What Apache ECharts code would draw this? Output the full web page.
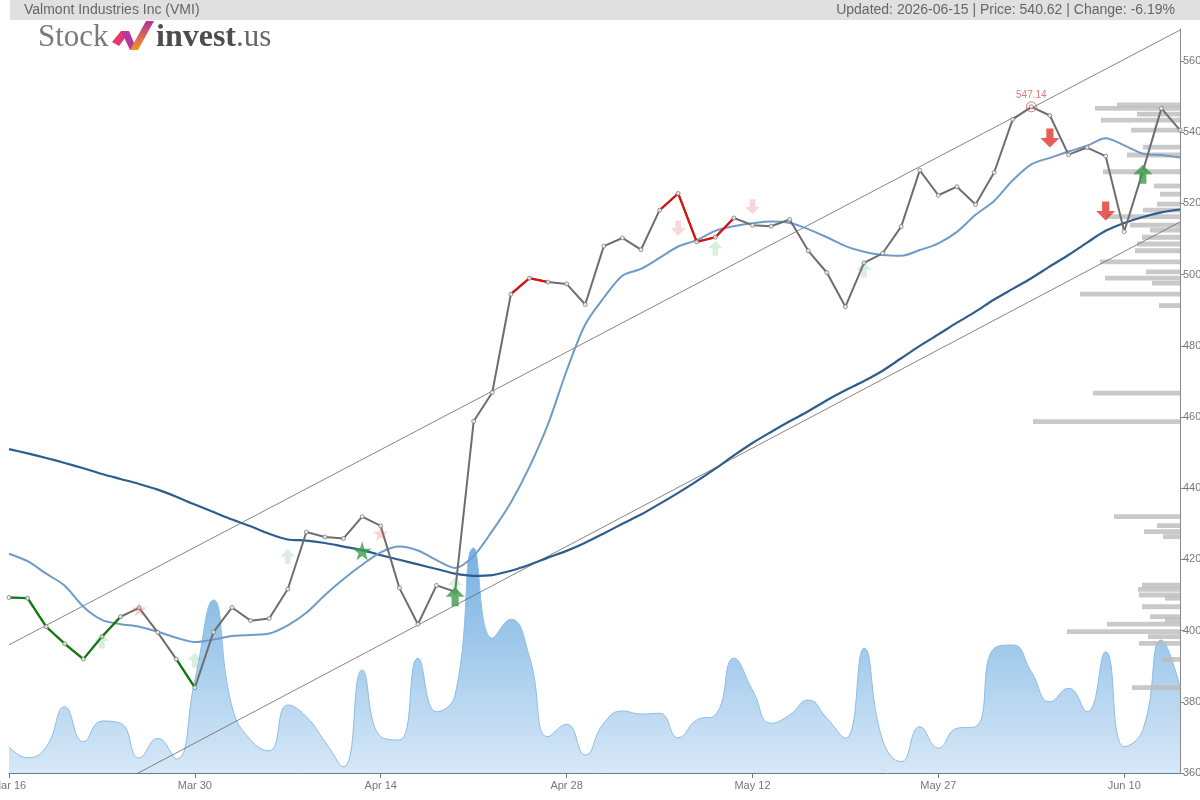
<!DOCTYPE html>
<html>
<head>
<meta charset="utf-8">
<title>Valmont Industries Inc (VMI)</title>
<script src="https://cdn.jsdelivr.net/npm/echarts@6/dist/echarts.min.js"></script>
<style>
  html, body { margin: 0; padding: 0; background: #fff; }
  #chart { width: 1200px; height: 800px; }
</style>
</head>
<body>
<div id="chart"></div>
<script>
// trading days shown on the chart
const dates = ['Mar 16', 'Mar 17', 'Mar 18', 'Mar 19', 'Mar 20', 'Mar 23', 'Mar 24', 'Mar 25', 'Mar 26', 'Mar 27',
  'Mar 30', 'Mar 31', 'Apr 1', 'Apr 2', 'Apr 6', 'Apr 7', 'Apr 8', 'Apr 9', 'Apr 10', 'Apr 13',
  'Apr 14', 'Apr 15', 'Apr 16', 'Apr 17', 'Apr 20', 'Apr 21', 'Apr 22', 'Apr 23', 'Apr 24', 'Apr 27',
  'Apr 28', 'Apr 29', 'Apr 30', 'May 1', 'May 4', 'May 5', 'May 6', 'May 7', 'May 8', 'May 11',
  'May 12', 'May 13', 'May 14', 'May 15', 'May 18', 'May 19', 'May 20', 'May 21', 'May 22', 'May 26',
  'May 27', 'May 28', 'May 29', 'Jun 1', 'Jun 2', 'Jun 3', 'Jun 4', 'Jun 5', 'Jun 8', 'Jun 9',
  'Jun 10', 'Jun 11', 'Jun 12', 'Jun 15']

const price = [409.3, 409.1, 401.1, 396.3, 392.0, 398.3, 403.9, 406.4, 399.5, 392.0,
  384.0, 399.6, 406.5, 402.8, 403.4, 411.7, 427.7, 426.3, 425.9, 432.0,
  429.4, 412.0, 401.8, 412.7, 410.9, 458.8, 466.9, 494.5, 499.0, 497.9,
  497.4, 491.6, 508.0, 510.3, 507.0, 518.1, 522.8, 509.2, 510.5, 515.9,
  513.9, 513.6, 515.5, 506.7, 500.6, 491.0, 503.3, 506.0, 513.5, 529.3,
  522.3, 524.7, 519.7, 528.7, 543.6, 547.14, 544.7, 533.7, 535.7, 533.3,
  512.1, 529.0, 546.7, 540.62]

// short and long moving averages
const maShort = [421.6, 419.5, 416.0, 412.6, 406.7, 403.0, 401.8, 401.1, 399.7, 398.0,
  396.8, 397.5, 398.5, 398.8, 399.2, 401.5, 405.0, 410.0, 414.5, 418.5,
  422.0, 423.6, 422.5, 419.8, 417.6, 421.0, 428.0, 436.0, 446.0, 458.0,
  473.0, 486.0, 493.5, 499.7, 501.6, 504.7, 507.9, 509.7, 512.3, 513.6,
  514.4, 514.9, 514.5, 512.8, 510.5, 508.0, 506.4, 505.5, 505.3, 506.9,
  508.8, 512.0, 516.8, 520.7, 526.5, 531.0, 532.8, 534.6, 536.2, 538.3,
  536.3, 534.0, 533.6, 532.9]

const maLong = [451.0, 449.8, 448.5, 447.1, 445.6, 444.0, 442.6, 441.2, 439.6, 437.6,
  435.4, 433.3, 431.2, 429.3, 427.2, 425.6, 425.3, 424.6, 423.6, 422.6,
  421.2, 419.9, 418.6, 417.3, 416.0, 415.4, 415.6, 416.8, 418.5, 420.5,
  422.4, 424.7, 427.3, 430.0, 432.6, 435.6, 438.7, 442.0, 445.5, 449.2,
  452.7, 455.8, 458.8, 461.6, 464.7, 467.5, 470.1, 473.0, 476.5, 480.0,
  483.2, 486.5, 489.6, 493.0, 496.0, 499.0, 502.3, 505.5, 509.0, 512.3,
  514.5, 516.2, 517.5, 518.3]

// daily volume (thousands)
const volume = [105, 61, 104, 265, 125, 208, 199, 60, 139, 56,
  372, 692, 265, 132, 89, 272, 225, 125, 25, 412,
  145, 132, 459, 245, 312, 900, 539, 615, 465, 145,
  195, 72, 199, 248, 236, 239, 141, 212, 232, 459,
  332, 199, 232, 292, 219, 139, 499, 132, 45, 185,
  99, 179, 185, 499, 512, 405, 285, 339, 245, 485,
  105, 172, 532, 345]

// index ranges where the price line is coloured
const greenRuns = [[0, 6], [9, 10]]
const redRuns = [[27, 29], [35, 39]]

// trend channel, value at first and last index
const channelUpper = [396.0, 568.7]
const channelLower = [340.8, 514.8]

// volume by price profile
const profilePrice = [547.7, 546.7, 545.1, 543.4, 540.6, 535.8, 533.6, 528.9, 524.9, 522.6,
  519.8, 518.1, 516.3, 513.9, 512.5, 510.5, 508.6, 506.7, 503.6, 500.8,
  499.0, 497.6, 494.5, 491.3, 466.7, 458.7, 432.0, 429.5, 427.8, 426.4,
  412.8, 411.6, 410.0, 409.1, 406.7, 403.9, 403.0, 401.8, 399.7, 398.3,
  396.4, 391.9, 384.0]
const profileVol = [63, 85, 43, 79, 49, 37, 53, 77, 26, 20,
  23, 37, 73, 50, 30, 38, 43, 45, 80, 34,
  75, 28, 100, 21, 87, 147, 66, 23, 36, 17,
  38, 42, 41, 15, 38, 30, 15, 73, 113, 32,
  41, 18, 48]

// signals
const buyIdx = [24, 61], buyVal = [409.5, 528.2]
const sellIdx = [56, 59], sellVal = [538.4, 517.9]
const starIdx = [19], starVal = [422.4]
const weakBuyIdx = [5, 10, 15, 24, 38, 46], weakBuyVal = [397.1, 391.7, 420.8, 412.8, 507.4, 501.3]
const weakSellIdx = [36, 40], weakSellVal = [513.0, 519.1]
const weakStarIdx = [7, 20], weakStarVal = [406.0, 427.3]

const maxIdx = 55

const upArrow = 'path://M8,0 L16,8 L11,8 L11,16 L5,16 L5,8 L0,8 Z'
const downArrow = 'path://M5,0 L11,0 L11,8 L16,8 L8,16 L0,8 L5,8 Z'
const star = 'path://M50,0 L61,35 L98,35 L68,57 L79,91 L50,70 L21,91 L32,57 L2,35 L39,35 Z'

const last = dates.length - 1
const pairs = (arr) => arr.map((v, i) => [i, v])
const zip = (xs, ys) => xs.map((x, k) => [x, ys[k]])
const runData = (runs) => price.map((v, i) => runs.some(r => i >= r[0] && i <= r[1]) ? [i, v] : [i, '-'])
const font = '"Liberation Sans", Arial, sans-serif'
const serif = '"Liberation Serif", serif'

const chart = echarts.init(document.getElementById('chart'))

const option = {
  animation: false,
  backgroundColor: '#fff',
  grid: { left: 9, right: 20, top: 29, bottom: 27, containLabel: false, outerBoundsMode: 'none' },
  xAxis: [
    {
      type: 'value', min: 0, max: last, interval: 10,
      axisLine: { show: true, lineStyle: { color: '#5f7d8c', width: 1 } },
      axisTick: { show: true, length: 5, lineStyle: { color: '#5f7d8c' } },
      axisLabel: {
        color: '#777', fontSize: 11, fontFamily: font, margin: 7,
        showMaxLabel: false, hideOverlap: false,
        formatter: (v) => dates[v] || ''
      },
      splitLine: { show: false }
    },
    {
      // for the volume profile bars, growing from the right edge
      type: 'value', min: 0, max: 1171, inverse: true, show: false
    }
  ],
  yAxis: [
    {
      type: 'value', position: 'right', min: 360, max: 569, interval: 20,
      axisLine: { show: true, onZero: false, lineStyle: { color: '#888' } },
      axisTick: { show: true, length: 4, lineStyle: { color: '#888' } },
      axisLabel: { color: '#777', fontSize: 11, fontFamily: font, margin: 3, showMaxLabel: false },
      splitLine: { show: false }
    },
    { type: 'value', min: 0, max: 2976, show: false }
  ],
  graphic: [
    { type: 'rect', shape: { x: 10, y: 0, width: 1190, height: 20 }, style: { fill: '#e0e0e0' }, z: 10 },
    {
      type: 'text', x: 24, y: 10, z: 11,
      style: { text: 'Valmont Industries Inc (VMI)', font: '14px ' + font, fill: '#666', textVerticalAlign: 'middle' }
    },
    {
      type: 'text', x: 1175, y: 10, z: 11,
      style: { text: 'Updated: 2026-06-15 | Price: 540.62 | Change: -6.19%', font: '14px ' + font, fill: '#666', textAlign: 'right', textVerticalAlign: 'middle' }
    },
    {
      type: 'text', x: 38, y: 38, z: 11,
      style: { text: 'Stock', font: '31px ' + serif, fill: '#7a7a7a', textVerticalAlign: 'middle' }
    },
    { type: 'polygon', z: 11, shape: { points: [[112, 42], [121, 31], [128, 34], [119, 46]] }, style: { fill: '#e23a6a' } },
    { type: 'polygon', z: 11, shape: { points: [[121, 31], [129, 31], [137, 50], [130, 50]] }, style: { fill: '#b8379c' } },
    {
      type: 'polygon', z: 11, shape: { points: [[130, 50], [138, 50], [154, 21], [146, 21]] },
      style: {
        fill: new echarts.graphic.LinearGradient(0, 1, 0, 0, [
          { offset: 0, color: '#f7941d' }, { offset: 1, color: '#b4329f' }
        ])
      }
    },
    {
      type: 'text', x: 156, y: 38, z: 11,
      style: {
        text: '{b|invest}{c|.us}', textVerticalAlign: 'middle',
        rich: {
          b: { font: 'bold 32px ' + serif, fill: '#4d4d4d' },
          c: { font: '31px ' + serif, fill: '#666' }
        }
      }
    }
  ],
  series: [
    {
      name: 'Volume', type: 'line', yAxisIndex: 1, z: 1,
      data: pairs(volume), smooth: 0.5, showSymbol: false, silent: true,
      lineStyle: { color: '#8dbde5', width: 1 },
      areaStyle: {
        opacity: 1,
        color: new echarts.graphic.LinearGradient(0, 0, 0, 1, [
          { offset: 0, color: '#76b1e2' }, { offset: 1, color: '#d7e8f7' }
        ])
      }
    },
    {
      name: 'Profile', type: 'custom', xAxisIndex: 1, yAxisIndex: 0, z: 2, silent: true,
      data: zip(profileVol, profilePrice),
      encode: { x: 0, y: 1 },
      renderItem: (params, api) => {
        const p0 = api.coord([0, api.value(1)])
        const p1 = api.coord([api.value(0), api.value(1)])
        const h = api.size([0, 1.35])[1]
        return {
          type: 'rect',
          shape: { x: p1[0], y: p0[1] - h / 2, width: p0[0] - p1[0], height: h },
          style: { fill: 'rgba(188,188,188,0.8)' }
        }
      }
    },
    {
      name: 'Upper', type: 'line', z: 3, showSymbol: false, silent: true,
      data: [[0, channelUpper[0]], [last, channelUpper[1]]],
      lineStyle: { color: '#666', width: 0.8 }
    },
    {
      name: 'Lower', type: 'line', z: 3, showSymbol: false, silent: true,
      data: [[0, channelLower[0]], [last, channelLower[1]]],
      lineStyle: { color: '#666', width: 0.8 }
    },
    {
      name: 'MA long', type: 'line', z: 4, showSymbol: false, smooth: 0.3,
      data: pairs(maLong), lineStyle: { color: '#2d5e8e', width: 2.2 }
    },
    {
      name: 'MA short', type: 'line', z: 4, showSymbol: false, smooth: 0.3,
      data: pairs(maShort), lineStyle: { color: '#6f9bc6', width: 2 }
    },
    {
      name: 'Price', type: 'line', z: 5, showSymbol: false,
      data: pairs(price), lineStyle: { color: '#6e6e6e', width: 2 }
    },
    {
      name: 'Price up', type: 'line', z: 6, showSymbol: false,
      data: runData(greenRuns), lineStyle: { color: '#0f7d0f', width: 2.2 }
    },
    {
      name: 'Price down', type: 'line', z: 6, showSymbol: false,
      data: runData(redRuns), lineStyle: { color: '#dd1010', width: 2.2 }
    },
    {
      name: 'Points', type: 'scatter', z: 7, silent: true,
      data: pairs(price), symbol: 'circle', symbolSize: 4,
      itemStyle: { color: '#fff', borderColor: '#777', borderWidth: 1 }
    },
    {
      name: 'Weak buy', type: 'scatter', z: 8, silent: true,
      data: zip(weakBuyIdx, weakBuyVal), symbol: upArrow, symbolSize: [15, 15],
      itemStyle: { color: 'rgba(70,170,80,0.25)' }
    },
    {
      name: 'Weak sell', type: 'scatter', z: 8, silent: true,
      data: zip(weakSellIdx, weakSellVal), symbol: downArrow, symbolSize: [15, 15],
      itemStyle: { color: 'rgba(235,90,90,0.3)' }
    },
    {
      name: 'Weak star', type: 'scatter', z: 8, silent: true,
      data: zip(weakStarIdx, weakStarVal), symbol: star, symbolSize: [15, 15],
      itemStyle: { color: 'rgba(235,90,90,0.35)' }
    },
    {
      name: 'Buy', type: 'scatter', z: 9, silent: true,
      data: zip(buyIdx, buyVal), symbol: upArrow, symbolSize: [19, 19],
      itemStyle: { color: '#3c9b47' }
    },
    {
      name: 'Sell', type: 'scatter', z: 9, silent: true,
      data: zip(sellIdx, sellVal), symbol: downArrow, symbolSize: [19, 19],
      itemStyle: { color: '#e0352f' }
    },
    {
      name: 'Star', type: 'scatter', z: 9, silent: true,
      data: zip(starIdx, starVal), symbol: star, symbolSize: [19, 19],
      itemStyle: { color: '#3c9b47' }
    },
    {
      name: 'Max', type: 'scatter', z: 10, silent: true,
      data: [[maxIdx, price[maxIdx]]], symbol: 'circle', symbolSize: 10,
      itemStyle: { color: 'rgba(255,255,255,0)', borderColor: '#e05555', borderWidth: 1 },
      label: {
        show: true, position: 'top', distance: 1, color: '#e05555', fontSize: 10, fontFamily: font,
        formatter: (p) => p.value[1].toFixed(2)
      }
    }
  ]
}

chart.setOption(option)
</script>
</body>
</html>
